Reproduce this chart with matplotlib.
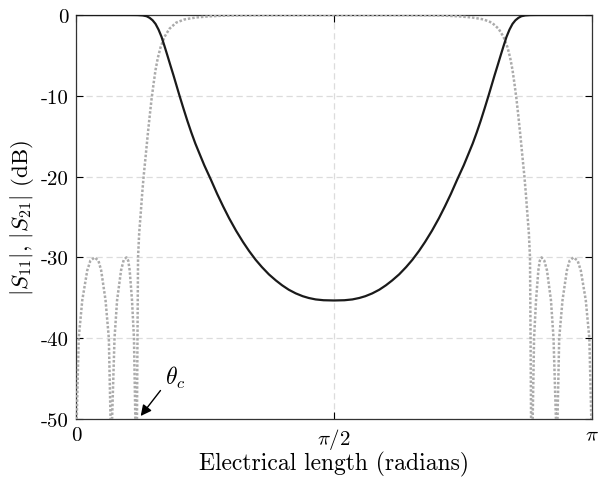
import numpy as np
import matplotlib
matplotlib.use('Agg')
import matplotlib.pyplot as plt

plt.rcParams['font.family'] = 'cmr10'
plt.rcParams['mathtext.fontset'] = 'cm'
plt.rcParams['axes.formatter.use_mathtext'] = True

# electrical length in units of pi, values in dB
t_s11 = [0.0, 0.00135, 0.0052, 0.0121, 0.0218, 0.0279, 0.0360, 0.0434, 0.0487, 0.0572, 0.0636, 0.0669,
         0.0684, 0.0699, 0.0746, 0.0796, 0.0873, 0.0925, 0.0977, 0.1012, 0.1040, 0.1085, 0.1123, 0.1150,
         0.1166, 0.1181, 0.1191, 0.1202, 0.1224, 0.1252, 0.1281, 0.1310, 0.1349, 0.1387, 0.1426, 0.1464,
         0.1503, 0.1541, 0.1586, 0.1638, 0.1715, 0.1811, 0.1940, 0.2100, 0.2326, 0.2620, 0.2967, 0.3545,
         0.5000,
         0.6455, 0.7033, 0.7380, 0.7674, 0.7900, 0.8060, 0.8189, 0.8285, 0.8362, 0.8414, 0.8459, 0.8497,
         0.8536, 0.8574, 0.8613, 0.8651, 0.8690, 0.8719, 0.8748, 0.8776, 0.8798, 0.8809, 0.8819, 0.8834,
         0.8850, 0.8877, 0.8915, 0.8960, 0.8988, 0.9023, 0.9075, 0.9127, 0.9204, 0.9254, 0.9301, 0.9316,
         0.9331, 0.9364, 0.9428, 0.9513, 0.9566, 0.9640, 0.9721, 0.9782, 0.9879, 0.9948, 0.99865, 1.0]
s11_db = [-60, -50, -40, -35.3, -31.6, -30.4, -30.0, -30.4, -31.6, -35.3, -40, -50,
          -65, -50, -40, -35.3, -31.6, -30.3, -30.0, -30.4, -31.6, -35.3, -40, -50,
          -65, -50, -40, -30, -27, -24.7, -22.2, -20, -17.5, -15, -12.6, -10.4,
          -8.5, -6.8, -5.3, -4.0, -2.7, -1.7, -0.95, -0.55, -0.3, -0.15, -0.05, -0.01,
          0.0,
          -0.01, -0.05, -0.15, -0.3, -0.55, -0.95, -1.7, -2.7, -4.0, -5.3, -6.8, -8.5,
          -10.4, -12.6, -15, -17.5, -20, -22.2, -24.7, -27, -30, -40, -50, -65,
          -50, -40, -35.3, -31.6, -30.4, -30.0, -30.4, -31.6, -35.3, -40, -50, -65,
          -50, -40, -35.3, -31.6, -30.4, -30.0, -30.4, -31.6, -35.3, -40, -50, -60]

t_s21_left = [0.0, 0.1040, 0.1195, 0.1291, 0.1368, 0.1426, 0.1484, 0.1541, 0.1599, 0.1657, 0.1715,
              0.1773, 0.1830, 0.1888, 0.1946, 0.2004, 0.2081, 0.2158, 0.2235, 0.2312, 0.2389, 0.2486,
              0.2615, 0.2736, 0.2852, 0.2967, 0.3102, 0.3237, 0.3353, 0.3482, 0.3603, 0.3738, 0.3873,
              0.3994, 0.4123, 0.4258, 0.4393, 0.4509, 0.4644, 0.4798, 0.5000]
s21_left = [0, 0, -0.01, -0.05, -0.15, -0.35, -0.65, -1.1, -1.8, -2.7, -3.85,
            -5.05, -6.25, -7.45, -8.7, -9.95, -11.55, -13.1, -14.55, -15.9, -17.1, -18.6,
            -20.4, -22.15, -23.7, -25.15, -26.7, -28.1, -29.2, -30.3, -31.2, -32.1, -32.85,
            -33.45, -34.0, -34.45, -34.8, -35.02, -35.2, -35.3, -35.33]

t_s21_right = [0.5202, 0.5356, 0.5491, 0.5607, 0.5742, 0.5877, 0.6006, 0.6127, 0.6262, 0.6397,
               0.6518, 0.6647, 0.6763, 0.6898, 0.7033, 0.7148, 0.7264, 0.7385, 0.7514, 0.7611,
               0.7688, 0.7765, 0.7842, 0.7919, 0.7996, 0.8054, 0.8112, 0.8170, 0.8227, 0.8285,
               0.8343, 0.8401, 0.8459, 0.8516, 0.8574, 0.8632, 0.8709, 0.8805, 0.8960, 1.0]
s21_right = [-35.3, -35.2, -35.02, -34.8, -34.45, -34.0, -33.45, -32.85, -32.1, -31.2,
             -30.3, -29.2, -28.1, -26.7, -25.15, -23.7, -22.15, -20.4, -18.6, -17.1,
             -15.9, -14.55, -13.1, -11.55, -9.95, -8.7, -7.45, -6.25, -5.05, -3.85,
             -2.7, -1.8, -1.1, -0.65, -0.35, -0.15, -0.05, -0.01, 0, 0]

theta_c = 0.122
yticks = [0, -10, -20, -30, -40, -50]

fig = plt.figure(figsize=(6, 4.85), dpi=100)
ax = fig.add_axes([0.1267, 0.134, 0.86, 0.833])

ax.plot(np.array(t_s11) * np.pi, s11_db, color='#ababab', lw=1.8,
        linestyle=(0, (1, 0.75)), dash_capstyle='butt', zorder=3)
ax.plot(np.array(t_s21_left + t_s21_right) * np.pi, s21_left + s21_right,
        color='#1a1a1a', lw=1.6, zorder=4)

ax.set_xlim(0, np.pi)
ax.set_ylim(-50, 0)
ax.set_xticks([0, np.pi / 2, np.pi])
ax.set_xticklabels(['0', r'$\pi/2$', r'$\pi$'])
ax.set_yticks(yticks)
ax.set_yticklabels(['0' if v == 0 else '-%d' % -v for v in yticks])
ax.tick_params(direction='in', length=5, width=0.8, top=True, right=True, labelsize=15, pad=5)
ax.grid(True, color='#dcdcdc', linestyle=(0, (5, 3)), lw=0.9)
ax.set_axisbelow(True)
for sp in ax.spines.values():
    sp.set_linewidth(0.9)
    sp.set_color('#333333')

ax.set_xlabel('Electrical length (radians)', fontsize=17, labelpad=0)
ax.set_ylabel(r'$|S_{11}|,\,|S_{21}|$ (dB)', fontsize=16.5, labelpad=4)

ax.annotate('', xy=(theta_c * np.pi, -49.9), xytext=(0.167 * np.pi, -46.2),
            arrowprops=dict(arrowstyle='-|>', color='black', lw=1, mutation_scale=16),
            annotation_clip=False, zorder=5)
ax.text(0.172 * np.pi, -44.8, r'$\theta_c$', fontsize=17, ha='left', va='center')

fig.savefig('out.png', dpi=100)
